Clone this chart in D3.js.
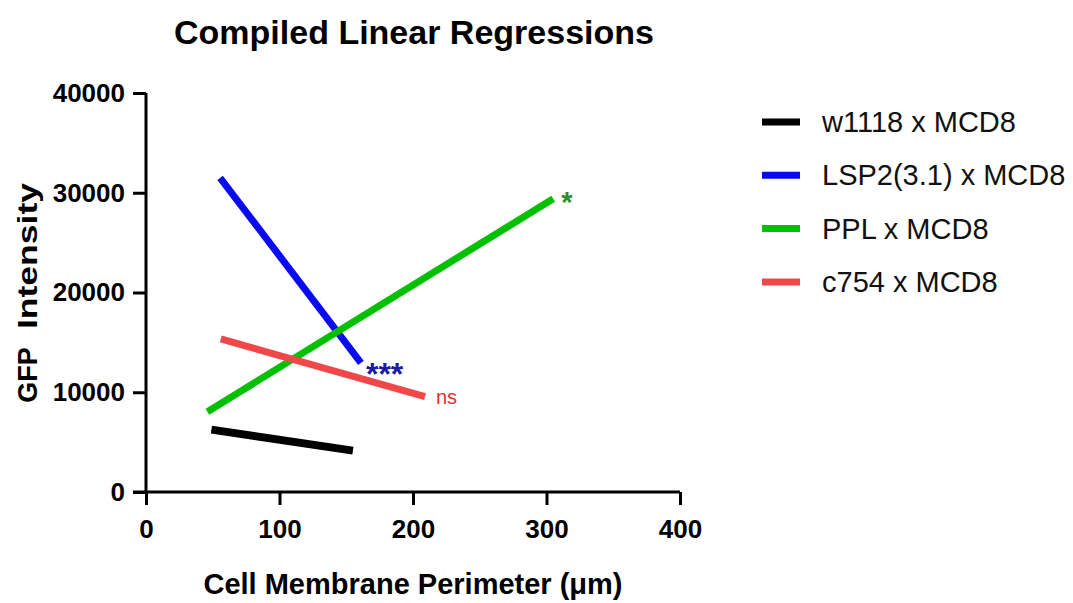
<!DOCTYPE html>
<html>
<head>
<meta charset="utf-8">
<script src="https://cdn.jsdelivr.net/npm/d3@7"></script>
<style>
  body { margin: 0; background: #fff; }
  svg { display: block; font-family: "Liberation Sans", Arial, sans-serif; }
</style>
</head>
<body>
<div id="chart"></div>
<script>
// Regression lines: start/end points in data units
const seriesNames = ['w1118 x MCD8', 'LSP2(3.1) x MCD8', 'PPL x MCD8', 'c754 x MCD8'];
const seriesColors = ['#000000', '#0a0aee', '#00c000', '#f04848'];
const xStart = [49, 55.5, 46, 56];
const yStart = [6250, 31500, 8050, 15350];
const xEnd = [155, 161, 305, 209];
const yEnd = [4150, 12950, 29400, 9550];

// Significance labels next to the line ends
const sigLabels = ['', '***', '*', 'ns'];
const sigColors = ['#000', '#1a1aa8', '#2e8b2e', '#e0303a'];

const xTicks = [0, 100, 200, 300, 400];
const yTicks = [0, 10000, 20000, 30000, 40000];

const width = 1073, height = 603;
const margin = { left: 146, right: 393, top: 93, bottom: 111 };

const svg = d3.select('#chart').append('svg')
    .attr('width', width)
    .attr('height', height);

const x = d3.scaleLinear().domain([0, 400]).range([margin.left, width - margin.right]);
const y = d3.scaleLinear().domain([0, 40000]).range([height - margin.bottom, margin.top]);

// Title
svg.append('text')
    .attr('x', 414).attr('y', 44)
    .attr('text-anchor', 'middle')
    .attr('font-size', 34).attr('font-weight', 'bold')
    .text('Compiled Linear Regressions');

// Axes
const xAxis = svg.append('g')
    .attr('transform', `translate(0,${y(0)})`)
    .call(d3.axisBottom(x).tickValues(xTicks).tickSize(13).tickPadding(15).tickFormat(d3.format('d')));

const yAxis = svg.append('g')
    .attr('transform', `translate(${x(0)},0)`)
    .call(d3.axisLeft(y).tickValues(yTicks).tickSize(13).tickPadding(8).tickFormat(d3.format('d')));

[xAxis, yAxis].forEach(a => {
    a.select('.domain').attr('stroke', '#000').attr('stroke-width', 3);
    a.selectAll('.tick line').attr('stroke', '#000').attr('stroke-width', 3);
    a.selectAll('.tick text')
        .attr('fill', '#000')
        .attr('font-size', 26)
        .attr('font-weight', 'bold')
        .attr('font-family', '"Liberation Sans", Arial, sans-serif');
});
// y axis ends at the top tick, x axis runs under the 0 tick
xAxis.select('.domain').attr('d', `M${x(0) - 13},0H${x(400)}`);
yAxis.select('.domain').attr('d', `M0,${y(40000)}V${y(0)}`);
xAxis.selectAll('.tick').filter(d => d === 0).select('line').attr('y1', 0);

// Axis titles
svg.append('text')
    .attr('x', 413).attr('y', 594)
    .attr('text-anchor', 'middle')
    .attr('font-size', 29).attr('font-weight', 'bold')
    .text('Cell Membrane Perimeter (μm)');

const yTitle = svg.append('g').attr('transform', 'translate(37,0) rotate(-90)');
yTitle.append('text')
    .attr('x', -375).attr('y', 0)
    .attr('text-anchor', 'middle')
    .attr('font-size', 27).attr('font-weight', 'bold')
    .text('GFP');
yTitle.append('text')
    .attr('x', -256).attr('y', 0)
    .attr('text-anchor', 'middle')
    .attr('font-size', 27).attr('font-weight', 'bold')
    .attr('textLength', 146).attr('lengthAdjust', 'spacingAndGlyphs')
    .text('Intensity');

// Regression lines
const lines = seriesNames.map((name, i) => ({
    name, color: seriesColors[i],
    x1: xStart[i], y1: yStart[i], x2: xEnd[i], y2: yEnd[i],
    sig: sigLabels[i], sigColor: sigColors[i]
}));

svg.append('g').selectAll('line')
    .data(lines)
    .enter().append('line')
    .attr('x1', d => x(d.x1)).attr('y1', d => y(d.y1))
    .attr('x2', d => x(d.x2)).attr('y2', d => y(d.y2))
    .attr('stroke', d => d.color)
    .attr('stroke-width', (d, i) => i === 0 ? 8 : 7);

// Significance marks
const sigDx = { '***': 5, '*': 8, 'ns': 11 };
const sigDy = { '***': 22, '*': 13, 'ns': 7 };
const sigSize = { '***': 32, '*': 29, 'ns': 20 };
svg.append('g').selectAll('text')
    .data(lines.filter(d => d.sig))
    .enter().append('text')
    .attr('x', d => x(d.x2) + sigDx[d.sig])
    .attr('y', d => y(d.y2) + sigDy[d.sig])
    .attr('fill', d => d.sigColor)
    .attr('font-size', d => sigSize[d.sig])
    .attr('font-weight', d => d.sig === 'ns' ? 'normal' : 'bold')
    .text(d => d.sig);

// Legend
const legend = svg.append('g')
    .selectAll('g')
    .data(lines)
    .enter().append('g')
    .attr('transform', (d, i) => `translate(762,${122 + i * 53.3})`);

legend.append('line')
    .attr('x1', 0).attr('x2', 38)
    .attr('stroke', d => d.color)
    .attr('stroke-width', 7);

legend.append('text')
    .attr('x', 60).attr('y', 10)
    .attr('font-size', 29)
    .attr('fill', '#111')
    .text(d => d.name);
</script>
</body>
</html>
